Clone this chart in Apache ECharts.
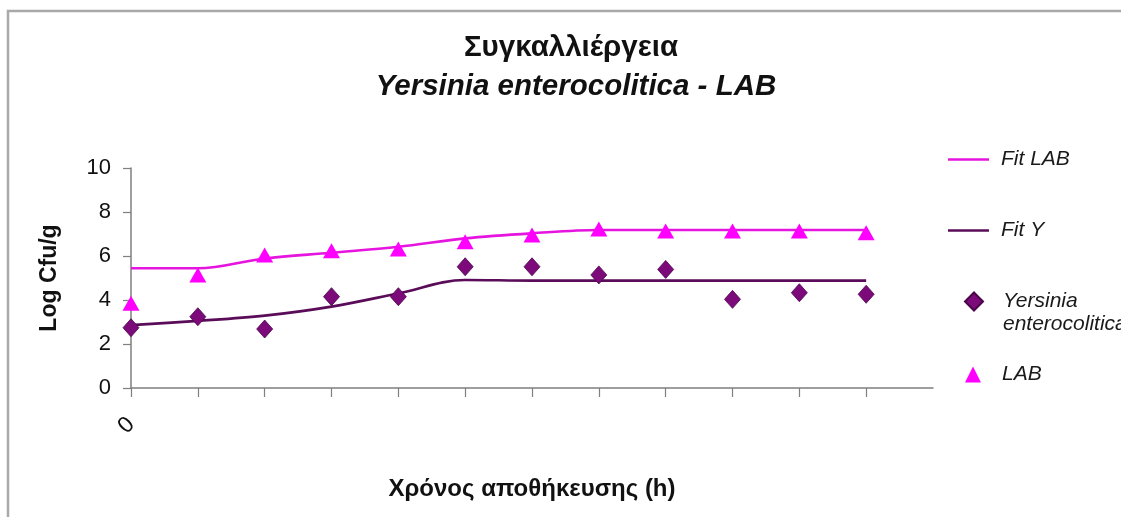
<!DOCTYPE html>
<html>
<head>
<meta charset="utf-8">
<title>Συγκαλλιέργεια</title>
<script src="https://cdn.jsdelivr.net/npm/echarts@6/dist/echarts.min.js"></script>
<style>
  html, body { margin: 0; padding: 0; background: #ffffff; }
  #chart { width: 1121px; height: 517px; }
</style>
</head>
<body>
<div id="chart"></div>
<script>
// Sampling points along the storage-time axis (only the first one is labelled)
const timePoints = [0, 1, 2, 3, 4, 5, 6, 7, 8, 9, 10, 11];
const timeLabels = ['0'];

// Measured counts, log cfu/g
const yersinia = [2.74, 3.24, 2.68, 4.15, 4.15, 5.51, 5.51, 5.14, 5.39, 4.03, 4.33, 4.26];
const lab      = [3.85, 5.14, 6.05, 6.24, 6.32, 6.65, 6.95, 7.23, 7.14, 7.14, 7.14, 7.06];

// Fitted growth curves
const fitLab = [5.44, 5.44, 5.89, 6.15, 6.42, 6.80, 7.03, 7.18, 7.18, 7.18, 7.18, 7.18];
const fitY   = [2.86, 3.05, 3.29, 3.70, 4.30, 4.91, 4.88, 4.88, 4.88, 4.88, 4.88, 4.88];

const yTicks = [0, 2, 4, 6, 8, 10];

const pairs = (xs, ys) => xs.map((x, i) => [x, ys[i]]);

const FONT = '"Liberation Sans", Arial, sans-serif';
const AXIS_GREY = '#7f7f7f';
const MAGENTA = '#ff00ff';
const FIT_MAGENTA = '#e614df';
const PURPLE = '#7d0a7b';
const DARK_PURPLE = '#5a0c58';

const legendText = (padLeft) => ({
  fontFamily: FONT, fontSize: 21, fontStyle: 'italic', color: '#1a1a1a',
  lineHeight: 23, padding: [0, 0, 0, padLeft]
});

const chart = echarts.init(document.getElementById('chart'), null, { renderer: 'canvas' });

chart.setOption({
  backgroundColor: '#ffffff',
  animation: false,
  title: [
    {
      text: 'Συγκαλλιέργεια',
      left: 571, top: 33, textAlign: 'center', padding: 0,
      textStyle: { fontFamily: FONT, fontSize: 29.5, fontWeight: 'bold', color: '#111' }
    },
    {
      text: 'Yersinia enterocolitica - LAB',
      left: 576, top: 72, textAlign: 'center', padding: 0,
      textStyle: { fontFamily: FONT, fontSize: 29.5, fontWeight: 'bold', fontStyle: 'italic', color: '#111' }
    }
  ],
  legend: [
    { data: [{ name: 'Fit LAB', icon: 'rect' }], left: 943, top: 143, itemWidth: 41, itemHeight: 2.6,
      textStyle: legendText(7) },
    { data: [{ name: 'Fit Y', icon: 'rect' }], left: 943, top: 214, itemWidth: 41, itemHeight: 2.6,
      textStyle: legendText(7) },
    { data: ['Yersinia enterocolitica'], left: 959, top: 262, itemWidth: 18, itemHeight: 18,
      formatter: () => '\nYersinia\nenterocolitica',
      textStyle: legendText(15) },
    { data: ['LAB'], left: 960, top: 358, itemWidth: 16, itemHeight: 16,
      textStyle: legendText(16) }
  ],
  grid: { left: 131, right: 188, top: 168, bottom: 129, containLabel: false },
  xAxis: {
    type: 'value',
    min: 0, max: 12, interval: 1,
    name: 'Χρόνος αποθήκευσης (h)',
    nameLocation: 'middle',
    nameGap: 89,
    nameTextStyle: { fontFamily: FONT, fontSize: 24, fontWeight: 'bold', color: '#111' },
    axisLine: { show: true, onZero: false, lineStyle: { color: AXIS_GREY, width: 1.5 } },
    axisTick: { show: true, length: 9, customValues: timePoints, lineStyle: { color: AXIS_GREY, width: 1.2 } },
    axisLabel: {
      show: true,
      customValues: [0],
      formatter: (v) => timeLabels[v] ?? '',
      rotate: 45,
      margin: 33,
      fontFamily: FONT, fontSize: 23, color: '#111'
    },
    splitLine: { show: false }
  },
  yAxis: {
    type: 'value',
    min: 0, max: 10, interval: 2,
    name: 'Log Cfu/g',
    nameLocation: 'middle',
    nameGap: 70,
    nameTextStyle: { fontFamily: FONT, fontSize: 23, fontWeight: 'bold', color: '#111' },
    axisLine: { show: true, lineStyle: { color: AXIS_GREY, width: 1.5 } },
    axisTick: { show: true, length: 8, lineStyle: { color: AXIS_GREY, width: 1.2 } },
    axisLabel: {
      margin: 20,
      fontFamily: FONT, fontSize: 22, color: '#111',
      formatter: (v) => (yTicks.includes(v) ? String(v) : '')
    },
    splitLine: { show: false }
  },
  series: [
    {
      name: 'Fit LAB', type: 'line', smooth: 0.35,
      data: pairs(timePoints, fitLab),
      symbol: 'none', z: 2,
      lineStyle: { color: FIT_MAGENTA, width: 2.6 },
      itemStyle: { color: FIT_MAGENTA }
    },
    {
      name: 'Fit Y', type: 'line', smooth: 0.35,
      data: pairs(timePoints, fitY),
      symbol: 'none', z: 2,
      lineStyle: { color: DARK_PURPLE, width: 2.6 },
      itemStyle: { color: DARK_PURPLE }
    },
    {
      name: 'Yersinia enterocolitica', type: 'scatter',
      data: pairs(timePoints, yersinia),
      symbol: 'diamond', symbolSize: [16, 18], z: 3,
      itemStyle: { color: PURPLE, borderColor: '#4a0548', borderWidth: 0.8, opacity: 1 }
    },
    {
      name: 'LAB', type: 'scatter',
      data: pairs(timePoints, lab),
      symbol: 'triangle', symbolSize: [17, 15], z: 4,
      itemStyle: { color: MAGENTA, opacity: 1 }
    }
  ],
  graphic: [
    {
      type: 'rect', silent: true, z: -1,
      shape: { x: 8, y: 11, width: 1300, height: 700 },
      style: { fill: 'none', stroke: '#a9a9a9', lineWidth: 2.5 }
    }
  ]
});
</script>
</body>
</html>
